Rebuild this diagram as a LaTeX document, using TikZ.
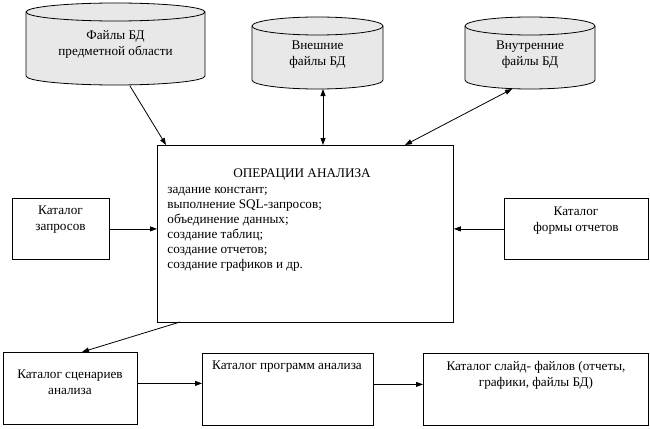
\documentclass[tikz,border=0pt]{standalone}
\usepackage{fontspec}
\setmainfont{Liberation Serif}
\usetikzlibrary{arrows.meta}
\begin{document}
\begin{tikzpicture}[x=1pt,y=-1pt, line width=0.8pt,
  box/.style={draw, rectangle, inner sep=0pt, anchor=north west},
  txt/.style={font=\fontsize{13.2}{16}\selectfont, inner sep=0pt, align=center},
  arr/.style={-{Triangle[length=7pt,width=5pt]}},
  darr/.style={{Triangle[length=7pt,width=5pt]}-{Triangle[length=7pt,width=5pt]}},
  cylfill/.style={fill=black!9, draw=black}]
\useasboundingbox (0,0) rectangle (650,428);

% cylinders: #1 cx, #2 rx, #3 top centre y, #4 bottom centre y, #5 ry
\newcommand{\mycyl}[5]{%
  \filldraw[cylfill] (#1-#2,#3) -- (#1-#2,#4)
     arc[start angle=180,end angle=360,x radius=#2pt,y radius=#5pt]
     -- (#1+#2,#3)
     arc[start angle=0,end angle=180,x radius=#2pt,y radius=#5pt] -- cycle;
  \draw (#1-#2,#3) arc[start angle=180,end angle=360,x radius=#2pt,y radius=#5pt];
}
\mycyl{115.5}{89.5}{12}{76}{9}
\mycyl{317.5}{65.5}{26}{80}{9}
\mycyl{530}{65}{26}{80}{9}

\coordinate (c1b) at (130,86);
\coordinate (c2b) at (323,89);
\coordinate (c3b) at (512,89);

\node[txt] (c1t) at (115.5,44) {Файлы БД\\предметной области};
\node[txt] (c2t) at (317.5,55) {Внешние\\файлы БД};
\node[txt] (c3t) at (530,55) {Внутренние\\файлы БД};

% boxes
\node[box, minimum width=296pt, minimum height=177pt] (ops) at (157,145) {};
\node[box, minimum width=97pt, minimum height=61pt] (qry) at (12,198) {};
\node[box, minimum width=144pt, minimum height=61pt] (frm) at (504,198) {};
\node[box, minimum width=134pt, minimum height=72pt] (scen) at (3,352) {};
\node[box, minimum width=171pt, minimum height=72pt] (prog) at (202,353) {};
\node[box, minimum width=225pt, minimum height=72pt] (slide) at (423,353) {};

% texts (base anchor = baseline of the last line)
\node[txt, anchor=base] (opst) at (302,177) {ОПЕРАЦИИ АНАЛИЗА};
\node[txt, anchor=base west, align=left, font=\fontsize{13.2}{15}\selectfont] (opsl) at (167,268)
  {задание констант;\\выполнение SQL-запросов;\\объединение данных;\\создание таблиц;\\создание отчетов;\\создание графиков и др.};
\node[txt, anchor=base] (qryt) at (60.5,230) {Каталог\\запросов};
\node[txt, anchor=base] (frmt) at (576,231) {Каталог\\формы отчетов};
\node[txt, anchor=base] (scent) at (70,394) {Каталог сценариев\\анализа};
\node[txt, anchor=base] (progt) at (287,369) {Каталог программ анализа};
\node[txt, anchor=base] (slidet) at (536,386) {Каталог слайд- файлов (отчеты,\\графики, файлы БД)};

% connectors
\coordinate (o1) at (166,145);
\coordinate (o3) at (405,145);
\coordinate (o4) at (180,322);
\coordinate (s1) at (82,352);
\draw[arr] (c1b) -- (o1);
\draw[darr] (c2b) -- (c2b |- ops.north);
\draw[darr] (c3b) -- (o3);
\draw[arr] (qry.east) -- (qry.east -| ops.west);
\draw[arr] (frm.west) -- (frm.west -| ops.east);
\draw[arr] (o4) -- (s1);
\draw[arr] ([yshift=5pt]scen.east) -- ([yshift=5pt]scen.east -| prog.west);
\draw[arr] ([yshift=5pt]prog.east) -- ([yshift=5pt]prog.east -| slide.west);
\end{tikzpicture}
\end{document}
